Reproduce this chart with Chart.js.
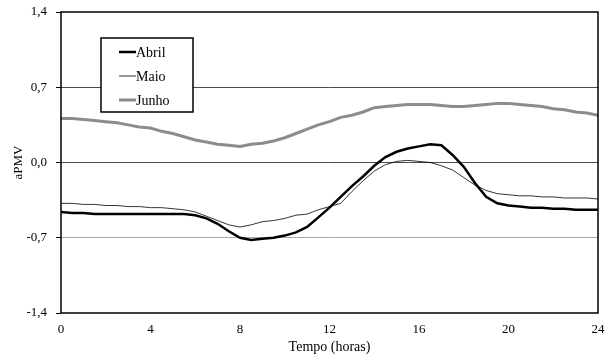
<!DOCTYPE html>
<html>
<head>
<meta charset="utf-8">
<script src="https://cdn.jsdelivr.net/npm/chart.js@4"></script>
<style>
  html, body { margin: 0; padding: 0; background: #fff; }
</style>
</head>
<body>
<canvas id="apmv" width="608" height="363"></canvas>
<script>
/* values, every half hour */
const hours = [0, 0.5, 1, 1.5, 2, 2.5, 3, 3.5, 4, 4.5, 5, 5.5, 6, 6.5, 7, 7.5, 8, 8.5, 9, 9.5,
               10, 10.5, 11, 11.5, 12, 12.5, 13, 13.5, 14, 14.5, 15, 15.5, 16, 16.5, 17, 17.5,
               18, 18.5, 19, 19.5, 20, 20.5, 21, 21.5, 22, 22.5, 23, 23.5, 24];

const abril = [-0.46, -0.47, -0.47, -0.48, -0.48, -0.48, -0.48, -0.48, -0.48, -0.48, -0.48, -0.48,
               -0.49, -0.52, -0.57, -0.64, -0.70, -0.72, -0.71, -0.70, -0.68, -0.65, -0.60, -0.51,
               -0.42, -0.32, -0.22, -0.13, -0.03, 0.05, 0.10, 0.13, 0.15, 0.17, 0.16, 0.07,
               -0.04, -0.19, -0.32, -0.38, -0.40, -0.41, -0.42, -0.42, -0.43, -0.43, -0.44, -0.44, -0.44];

const maio = [-0.38, -0.38, -0.39, -0.39, -0.40, -0.40, -0.41, -0.41, -0.42, -0.42, -0.43, -0.44,
              -0.46, -0.50, -0.54, -0.58, -0.60, -0.58, -0.55, -0.54, -0.52, -0.49, -0.48, -0.44,
              -0.41, -0.38, -0.27, -0.17, -0.08, -0.02, 0.01, 0.02, 0.01, 0.00, -0.03, -0.07,
              -0.14, -0.21, -0.26, -0.29, -0.30, -0.31, -0.31, -0.32, -0.32, -0.33, -0.33, -0.33, -0.34];

const junho = [0.41, 0.41, 0.40, 0.39, 0.38, 0.37, 0.35, 0.33, 0.32, 0.29, 0.27, 0.24,
               0.21, 0.19, 0.17, 0.16, 0.15, 0.17, 0.18, 0.20, 0.23, 0.27, 0.31, 0.35,
               0.38, 0.42, 0.44, 0.47, 0.51, 0.52, 0.53, 0.54, 0.54, 0.54, 0.53, 0.52,
               0.52, 0.53, 0.54, 0.55, 0.55, 0.54, 0.53, 0.52, 0.50, 0.49, 0.47, 0.46, 0.44];

const yTicks = [-1.4, -0.7, 0, 0.7, 1.4];
const xTicks = [0, 4, 8, 12, 16, 20, 24];

const serif = "'Liberation Serif', 'Times New Roman', serif";

function pts(values) {
  return hours.map(function (h, i) { return { x: h, y: values[i] }; });
}

/* boxed legend inside the plot area, top left */
const boxLegend = {
  id: 'boxLegend',
  afterDraw: function (chart) {
    const c = chart.ctx;
    const area = chart.chartArea;
    const x0 = area.left + 40, y0 = area.top + 26, w = 92, h = 74;
    c.save();
    c.fillStyle = '#fff';
    c.fillRect(x0, y0, w, h);
    c.lineWidth = 1.5;
    c.strokeStyle = '#000';
    c.strokeRect(x0, y0, w, h);
    c.font = '14px ' + serif;
    c.textBaseline = 'middle';
    c.fillStyle = '#000';
    chart.data.datasets.forEach(function (ds, i) {
      const yy = y0 + 14 + i * 24;
      c.beginPath();
      c.strokeStyle = ds.borderColor;
      c.lineWidth = ds.borderWidth;
      c.moveTo(x0 + 18, yy);
      c.lineTo(x0 + 35, yy);
      c.stroke();
      c.fillText(ds.label, x0 + 35, yy + 1);
    });
    c.restore();
  }
};

/* black frame round the plot area */
const frame = {
  id: 'frame',
  afterDatasetsDraw: function (chart) {
    const c = chart.ctx;
    const a = chart.chartArea;
    c.save();
    c.strokeStyle = '#000';
    c.lineWidth = 1.5;
    c.strokeRect(a.left, a.top, a.right - a.left, a.bottom - a.top);
    c.restore();
  }
};

new Chart(document.getElementById('apmv').getContext('2d'), {
  type: 'line',
  data: {
    datasets: [
      { label: 'Abril', data: pts(abril), borderColor: '#000', borderWidth: 2.5, order: 2 },
      { label: 'Maio', data: pts(maio), borderColor: '#000', borderWidth: 0.8, order: 1 },
      { label: 'Junho', data: pts(junho), borderColor: '#8c8c8c', borderWidth: 3, order: 3 }
    ]
  },
  options: {
    responsive: false,
    animation: false,
    devicePixelRatio: 1,
    layout: { padding: { top: 12, right: 10, left: 0, bottom: 0 } },
    elements: { point: { radius: 0 }, line: { tension: 0 } },
    plugins: { legend: { display: false }, tooltip: { enabled: false } },
    scales: {
      x: {
        type: 'linear',
        min: 0,
        max: 24,
        afterBuildTicks: function (axis) { axis.ticks = xTicks.map(function (v) { return { value: v }; }); },
        afterFit: function (scale) { scale.height = 50; scale.paddingLeft = 0; scale.paddingRight = 0; },
        grid: { display: false },
        border: { display: false },
        ticks: { color: '#000', font: { family: serif, size: 13 }, padding: 1, maxRotation: 0 },
        title: { display: true, text: 'Tempo (horas)', color: '#000', font: { family: serif, size: 14 }, padding: { top: 5, bottom: 7 } }
      },
      y: {
        min: -1.4,
        max: 1.4,
        afterBuildTicks: function (axis) { axis.ticks = yTicks.map(function (v) { return { value: v }; }); },
        afterFit: function (scale) { scale.width = 61; scale.paddingTop = 0; scale.paddingBottom = 0; },
        grid: {
          color: function (ctx) {
            if (!ctx.tick) return 'rgba(0,0,0,0)';
            const v = ctx.tick.value;
            if (Math.abs(v) > 1.3) return 'rgba(0,0,0,0)';
            return v < -0.1 ? '#a6a6a6' : '#4d4d4d';
          },
          tickColor: '#000',
          tickLength: 5,
          lineWidth: 1
        },
        border: { display: false },
        ticks: {
          color: '#000',
          font: { family: serif, size: 13 },
          padding: 9,
          callback: function (v) {
            const s = Math.abs(v) < 1e-9 ? '0,0' : v.toFixed(1).replace('.', ',');
            return s;
          }
        },
        title: { display: true, text: 'aPMV', color: '#000', font: { family: serif, size: 13 }, padding: { top: 11, bottom: 4 } }
      }
    }
  },
  plugins: [frame, boxLegend]
});
</script>
</body>
</html>
